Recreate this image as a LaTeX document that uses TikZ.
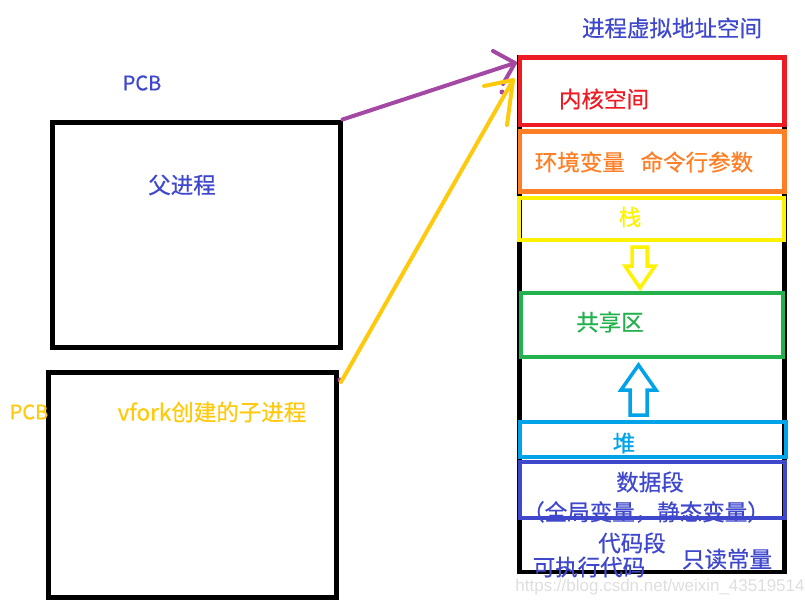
\documentclass[tikz,border=0pt]{standalone}
\usepackage{fontspec}
\setmainfont[FakeBold=0.6,AutoFakeBold=0.6]{Noto Sans CJK SC}
\newfontfamily\wmfont{Liberation Sans}
\definecolor{cblue}{HTML}{3F48CC}
\definecolor{cred}{HTML}{ED1C24}
\definecolor{corange}{HTML}{FF7F27}
\definecolor{cyellow}{HTML}{FFF200}
\definecolor{cgreen}{HTML}{22B14C}
\definecolor{ccyan}{HTML}{00A2E8}
\definecolor{cpurple}{HTML}{A349A4}
\definecolor{cgold}{HTML}{FFC90E}
\begin{document}
\begin{tikzpicture}[x=1pt,y=-1pt,
  lbl/.style={inner sep=0pt, font=\fontsize{22.5}{26}\selectfont\bfseries},
  pcb/.style={inner sep=0pt, font=\fontsize{20}{24}\selectfont\bfseries},
  seg/.style={draw, line width=4.5pt, inner sep=0pt},
  pcbbox/.style={draw=black, line width=5pt, inner sep=0pt},
  hollow/.style={line width=3.5pt, line join=miter},
  link/.style={line width=4pt, line cap=round, line join=round}]
\useasboundingbox (0,0) rectangle (805,605);
% left process boxes
\node[pcbbox, minimum width=288pt, minimum height=225pt] (parent) at (196,234.5) {};
\node[pcbbox, minimum width=288pt, minimum height=225pt] (child) at (192,484.5) {};
\node[pcb, text=cblue] (pcb1) at (142,83) {PCB};
\node[lbl, text=cblue] (ptext) at (182,185) {父进程};
\node[pcb, text=cgold] (pcb2) at (29,412) {PCB};
\node[lbl, text=cgold] (ctext) at (212,412) {vfork创建的子进程};
% right column
\node[lbl, text=cblue] (title) at (672,28) {进程虚拟地址空间};
\node[draw=black, line width=4.5pt, inner sep=0pt, minimum width=265pt, minimum height=515pt] (space) at (652,314.5) {};
\node[lbl, text=cblue] (dtext2) at (646,512) {（全局变量，静态变量）};
\node[seg, draw=cred, minimum width=264.5pt, minimum height=67.5pt] (kernel) at (652,91.25) {};
\node[seg, draw=corange, minimum width=264.5pt, minimum height=60pt] (env) at (652,161.5) {};
\node[seg, draw=cyellow, minimum width=265pt, minimum height=42pt] (stack) at (651.5,219) {};
\node[seg, draw=cgreen, minimum width=262pt, minimum height=64pt] (shared) at (652,325) {};
\node[seg, draw=ccyan, minimum width=266pt, minimum height=35pt] (heap) at (653,439.5) {};
\node[seg, draw=cblue, minimum width=265pt, minimum height=56pt] (data) at (652.5,490) {};
\node[lbl, text=cred] (ktext) at (604,99) {内核空间};
\node[lbl, text=corange] (etext) at (644,162) {环境变量\hspace{0.7em}命令行参数};
\node[lbl, text=cyellow] (stext) at (630,217) {栈};
\node[lbl, text=cgreen] (shtext) at (610,322) {共享区};
\node[lbl, text=ccyan] (htext) at (624,443) {堆};
\node[lbl, text=cblue] (dtext) at (650,482) {数据段};
\node[lbl, text=cblue] (ctext1) at (632,543) {代码段};
\node[lbl, text=cblue] (ctext2) at (589,567) {可执行代码};
\node[lbl, text=cblue] (ctext3) at (727,559) {只读常量};
\node[inner sep=0pt, text=black!13, font=\wmfont\fontsize{17}{20}\selectfont] (wm) at (660,587) {https://blog.csdn.net/weixin\_43519514};
% hollow arrows
\draw[hollow, cyellow] (632,247) -- (647,247) -- (647,266) -- (655,266) -- (640,288) -- (625,266) -- (632,266) -- cycle;
\draw[hollow, ccyan] (638.5,365) -- (656,390) -- (647,390) -- (647,415) -- (630,415) -- (630,390) -- (621,390) -- cycle;
% links
\coordinate (ptip) at (515,63);
\coordinate (ctip) at (513,80);
\coordinate (cstart) at (341,382);
\draw[link, cpurple] (parent.north east) -- (ptip);
\draw[link, cpurple] (493,51) -- (ptip) -- (503,84);
\fill[cpurple] (502,92) circle (2.5pt);
\fill[cpurple] (340,380) circle (2.5pt);
\draw[link, cgold] (cstart) -- (ctip);
\draw[link, cgold] (484,86) -- (ctip) -- (507,125);
\end{tikzpicture}
\end{document}
